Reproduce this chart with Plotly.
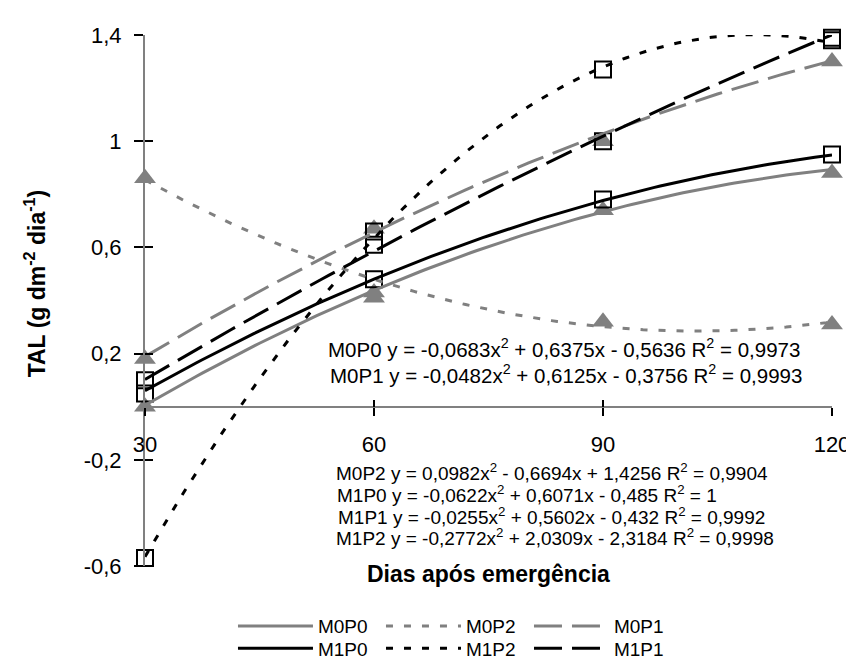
import numpy as np
import plotly.graph_objects as go

# ---------------- data ----------------
days = [30, 60, 90, 120]
x_tickvals = [30, 60, 90, 120]
x_ticktext = ["30", "60", "90", "120"]
y_tickvals = [-0.6, -0.2, 0.2, 0.6, 1.0, 1.4]
y_ticktext = ["-0,6", "-0,2", "0,2", "0,6", "1", "1,4"]

# observed values (markers)
m0p0 = [0.00, 0.43, 0.74, 0.88]
m0p2 = [0.86, 0.41, 0.32, 0.31]
m0p1 = [0.18, 0.67, 1.00, 1.30]
m1p0 = [0.05, 0.48, 0.78, 0.95]
m1p2 = [-0.57, 0.66, 1.27, 1.38]
m1p1 = [0.10, 0.61, 1.00, 1.39]

# polynomial trendline coefficients printed on the chart (x = 1..4)
coef_m0p0 = [-0.0683, 0.6375, -0.5636]
coef_m0p2 = [0.0982, -0.6694, 1.4256]
coef_m0p1 = [-0.0482, 0.6125, -0.3756]
coef_m1p0 = [-0.0622, 0.6071, -0.485]
coef_m1p2 = [-0.2772, 2.0309, -2.3184]
coef_m1p1 = [-0.0255, 0.5602, -0.432]

eq_top = [
    "M0P0 y = -0,0683x<sup>2</sup> + 0,6375x - 0,5636 R<sup>2</sup> = 0,9973",
    "M0P1 y = -0,0482x<sup>2</sup> + 0,6125x - 0,3756 R<sup>2</sup> = 0,9993",
]
eq_bottom = [
    "M0P2 y = 0,0982x<sup>2</sup> - 0,6694x + 1,4256 R<sup>2</sup> = 0,9904",
    "M1P0 y = -0,0622x<sup>2</sup> + 0,6071x - 0,485 R<sup>2</sup> = 1",
    "M1P1 y = -0,0255x<sup>2</sup> + 0,5602x - 0,432 R<sup>2</sup> = 0,9992",
    "M1P2 y = -0,2772x<sup>2</sup> + 2,0309x - 2,3184 R<sup>2</sup> = 0,9998",
]

GREY = "#808080"
BLACK = "#000000"
FONT = "Liberation Sans, Arial, sans-serif"

series = [
    # name, values, coef, color, dash, marker, legend
    ("M0P0", m0p0, coef_m0p0, GREY, "solid", "tri", "legend"),
    ("M0P2", m0p2, coef_m0p2, GREY, "7px,11px", "tri", "legend"),
    ("M0P1", m0p1, coef_m0p1, GREY, "28px,10px", "tri", "legend"),
    ("M1P0", m1p0, coef_m1p0, BLACK, "solid", "sq", "legend2"),
    ("M1P2", m1p2, coef_m1p2, BLACK, "7px,11px", "sq", "legend2"),
    ("M1P1", m1p1, coef_m1p1, BLACK, "28px,10px", "sq", "legend2"),
]

fig = go.Figure()

# markers
for name, vals, coef, color, dash, mk, lg in series:
    if mk == "tri":
        marker = dict(symbol="triangle-up", size=19, color=GREY, line=dict(width=0))
    else:
        marker = dict(symbol="square-open", size=16, color=BLACK, line=dict(width=2, color=BLACK))
    fig.add_trace(go.Scatter(x=days, y=vals, mode="markers", marker=marker,
                             showlegend=False, hoverinfo="skip", cliponaxis=False))

# trendlines
t = np.linspace(1, len(days), 121)
for name, vals, coef, color, dash, mk, lg in series:
    yfit = np.polyval(coef, t)
    xfit = np.interp(t, np.arange(1, len(days) + 1), days)
    fig.add_trace(go.Scatter(x=xfit, y=yfit, mode="lines", name=name,
                             line=dict(color=color, width=3, dash=dash),
                             legend=lg, hoverinfo="skip", cliponaxis=False))

# helper trace for overlay axes (crossing ticks)
fig.add_trace(go.Scatter(x=[None], y=[None], xaxis="x2", yaxis="y2",
                         showlegend=False, hoverinfo="skip"))

# plot area geometry (pixels)
L, R, T, B = 137, 22, 27, 96
W, H = 854, 671
PW, PH = W - L - R, H - T - B


def px_x(p):
    return (p - L) / PW


def px_y(p):
    return (H - B - p) / PH


yr = [-0.6, 1.4]
xr = [30, 120]
zero_pos = (0 - yr[0]) / (yr[1] - yr[0])

axis_common = dict(showgrid=False, zeroline=False, linecolor=GREY, linewidth=2,
                   tickcolor=BLACK, tickwidth=1.5)

fig.update_layout(
    width=W, height=H,
    margin=dict(l=L, r=R, t=T, b=B),
    paper_bgcolor="white", plot_bgcolor="white",
    font=dict(family=FONT, size=22, color=BLACK),
    xaxis=dict(range=xr, tickvals=x_tickvals, ticktext=x_ticktext,
               anchor="free", position=zero_pos, showline=True,
               ticks="outside", ticklen=8, ticklabelstandoff=10,
               tickfont=dict(size=22), **axis_common),
    yaxis=dict(range=yr, tickvals=y_tickvals, ticktext=y_ticktext,
               showline=True, ticks="outside", ticklen=9, ticklabelstandoff=8,
               tickfont=dict(size=22), **axis_common),
    xaxis2=dict(range=xr, overlaying="x", anchor="free", position=zero_pos,
                tickvals=x_tickvals, showticklabels=False, showline=False,
                ticks="inside", ticklen=7, **axis_common),
    yaxis2=dict(range=yr, overlaying="y", anchor="x2", side="left",
                tickvals=y_tickvals, showticklabels=False, showline=False,
                ticks="inside", ticklen=8, **axis_common),
    legend=dict(orientation="h", x=px_x(226), y=px_y(637), xanchor="left", yanchor="middle",
                itemwidth=75, entrywidth=58, entrywidthmode="pixels",
                font=dict(size=19, family=FONT), bgcolor="rgba(0,0,0,0)",
                traceorder="normal", itemclick=False),
    legend2=dict(orientation="h", x=px_x(226), y=px_y(660), xanchor="left", yanchor="middle",
                 itemwidth=75, entrywidth=58, entrywidthmode="pixels",
                 font=dict(size=19, family=FONT), bgcolor="rgba(0,0,0,0)",
                 traceorder="normal", itemclick=False),
    showlegend=True,
)

annotations = []
# axis titles
annotations.append(dict(text="<b>Dias após emergência</b>", x=0.5, y=px_y(583),
                        xref="paper", yref="paper", showarrow=False,
                        xanchor="center", yanchor="middle", font=dict(size=23)))
annotations.append(dict(text="<b>TAL (g dm<sup>-2</sup> dia<sup>-1</sup>)</b>",
                        x=px_x(26), y=px_y(283), xref="paper", yref="paper",
                        showarrow=False, textangle=-90, xanchor="center",
                        yanchor="middle", font=dict(size=23)))
# equations
top_pos = [(320, 350), (322, 377)]
for txt, (xp, yp) in zip(eq_top, top_pos):
    annotations.append(dict(text=txt, x=px_x(xp), y=px_y(yp), xref="paper", yref="paper",
                            showarrow=False, xanchor="left", yanchor="middle",
                            font=dict(size=20.5)))
bot_pos = [(328, 478), (329, 500.5), (330, 523), (328, 545.5)]
for txt, (xp, yp) in zip(eq_bottom, bot_pos):
    annotations.append(dict(text=txt, x=px_x(xp), y=px_y(yp), xref="paper", yref="paper",
                            showarrow=False, xanchor="left", yanchor="middle",
                            font=dict(size=19)))
fig.update_layout(annotations=annotations)

fig.write_html("out.html")
